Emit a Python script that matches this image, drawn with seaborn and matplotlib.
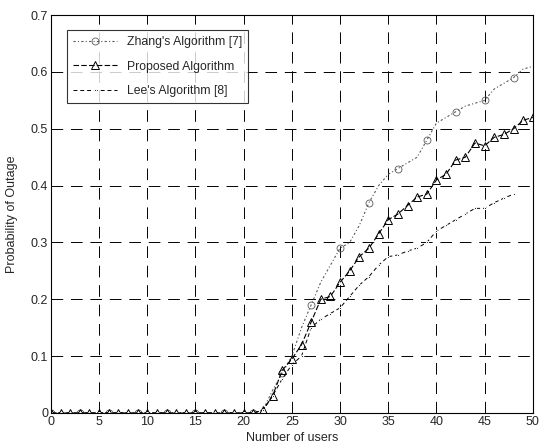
import numpy as np
import pandas as pd
import matplotlib
matplotlib.use("Agg")
import matplotlib.pyplot as plt
import seaborn as sns

# values
users = list(range(0, 51))
zhang = [0.0] * 22 + [0.005, 0.04, 0.07, 0.10, 0.15, 0.19, 0.23, 0.26, 0.29, 0.30,
                      0.33, 0.37, 0.40, 0.42, 0.43, 0.44, 0.45, 0.48, 0.51, 0.52,
                      0.53, 0.54, 0.545, 0.55, 0.57, 0.58, 0.59, 0.605, 0.61]
proposed = [0.0] * 22 + [0.005, 0.03, 0.075, 0.095, 0.12, 0.16, 0.20, 0.205, 0.23, 0.25,
                         0.275, 0.29, 0.315, 0.34, 0.35, 0.365, 0.38, 0.385, 0.41, 0.42,
                         0.445, 0.45, 0.475, 0.47, 0.485, 0.49, 0.50, 0.515, 0.52]
lee = [0.0] * 22 + [0.005, 0.03, 0.06, 0.085, 0.10, 0.15, 0.165, 0.175, 0.185, 0.205,
                    0.225, 0.24, 0.26, 0.275, 0.278, 0.285, 0.29, 0.30, 0.32, 0.33,
                    0.34, 0.35, 0.36, 0.36, 0.37, 0.378, 0.385]

sns.set_style("white")
plt.rcParams['font.family'] = ['Liberation Sans', 'DejaVu Sans']

fig = plt.figure(figsize=(5.42, 4.45), dpi=100)
ax = fig.add_axes([0.094, 0.072, 0.889, 0.894])

sns.lineplot(x=users, y=zhang, ax=ax, color='0.35', lw=0.8, linestyle=(0, (2, 2, 1, 2)),
             marker='o', markersize=5, markerfacecolor='none', markeredgecolor='0.35',
             markeredgewidth=0.6, markevery=3, label="Zhang's Algorithm [7]")
sns.lineplot(x=users, y=proposed, ax=ax, color='black', lw=0.8, linestyle=(0, (5, 2)),
             marker='^', markersize=6, markerfacecolor='none', markeredgecolor='black',
             markeredgewidth=0.7, label='Proposed Algorithm')
sns.lineplot(x=users[:len(lee)], y=lee, ax=ax, color='black', lw=0.7, linestyle=(0, (4, 3)),
             marker='.', markersize=3, label="Lee's Algorithm [8]")

ax.set_xlim(0, 50)
ax.set_ylim(0, 0.7)
ax.set_xticks(range(0, 51, 5))
ax.set_yticks(np.arange(0, 0.71, 0.1))
ax.set_yticklabels(['0', '0.1', '0.2', '0.3', '0.4', '0.5', '0.6', '0.7'])
ax.grid(True, color='black', linestyle=(0, (12, 8)), lw=0.7)
for s in ax.spines.values():
    s.set_color('black')
    s.set_linewidth(0.8)
ax.tick_params(labelsize=9, length=3, direction='in', pad=2)
ax.set_xlabel('Number of users', fontsize=9, labelpad=3)
ax.set_ylabel('Probability of Outage', fontsize=9, labelpad=9)

leg = ax.legend(loc='upper left', bbox_to_anchor=(0.033, 0.962), fontsize=8.8,
                frameon=True, fancybox=False, labelspacing=1.0, handlelength=3.6,
                handletextpad=0.8, borderpad=0.5, borderaxespad=0)
leg.get_frame().set_edgecolor('black')
leg.get_frame().set_linewidth(0.8)

fig.savefig('out.png', dpi=100)
